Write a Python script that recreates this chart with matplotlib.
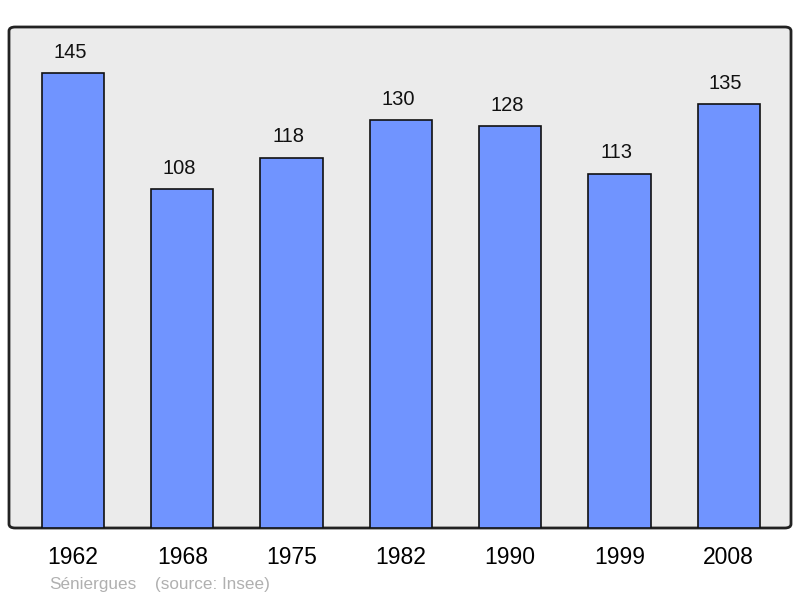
import matplotlib.pyplot as plt
from matplotlib.patches import FancyBboxPatch

plt.rcParams['font.family'] = ['Liberation Sans', 'DejaVu Sans']

annees = ["1962", "1968", "1975", "1982", "1990", "1999", "2008"]
population = [145, 108, 118, 130, 128, 113, 135]

fig = plt.figure(figsize=(8, 5.98), dpi=100)
ax = fig.add_axes([9 / 800, 70 / 598, 782 / 800, 501 / 598])
ax.set_facecolor('none')

# fond gris arrondi
fond = FancyBboxPatch((0, 0), 1, 1, boxstyle="round,pad=0,rounding_size=0.008",
                      transform=ax.transAxes, facecolor='#ebebeb',
                      edgecolor='#222222', linewidth=2, zorder=0, clip_on=False)
ax.add_patch(fond)

x = range(len(annees))
ax.bar(x, population, width=0.57, color='#7094ff', edgecolor='#111111',
       linewidth=1.2, zorder=2)

for i, v in zip(x, population):
    ax.annotate(str(v), (i, v), xytext=(-3, 21), textcoords='offset pixels',
                ha='center', va='center', fontsize=14.5, color='#111111')

ax.set_xlim(-0.586, 6.57)
ax.set_ylim(0, 159.7)
for s in ax.spines.values():
    s.set_visible(False)
ax.set_yticks([])
ax.set_xticks(list(x))
ax.set_xticklabels(annees, fontsize=16.5)
ax.tick_params(axis='x', length=0, pad=13)

fig.text(49 / 800, 1 - 584 / 598, "Séniergues", fontsize=12.3,
         color='#b0b0b0', va='center', ha='left')
fig.text(155 / 800, 1 - 584 / 598, "(source: Insee)", fontsize=12.3,
         color='#b0b0b0', va='center', ha='left')

fig.savefig('out.png', dpi=100)
